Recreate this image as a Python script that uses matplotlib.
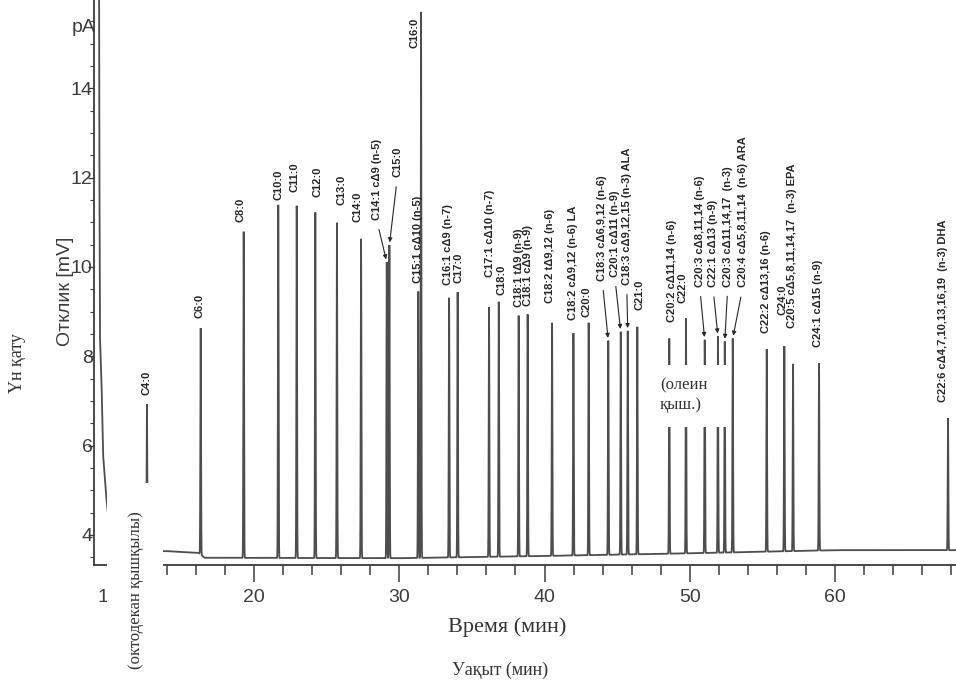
import numpy as np
import matplotlib
matplotlib.use("Agg")
import matplotlib.pyplot as plt
from matplotlib.patches import Rectangle
from matplotlib.ticker import MultipleLocator

plt.rcParams['font.family'] = ['Liberation Sans', 'DejaVu Sans']

# ---------------- data ----------------
peak_names = [
    "C4:0", "C6:0", "C8:0", "C10:0", "C11:0", "C12:0", "C13:0", "C14:0",
    "C14:1 cΔ9 (n-5)", "C15:0", "C15:1 cΔ10 (n-5)", "C16:0",
    "C16:1 cΔ9 (n-7)", "C17:0", "C17:1 cΔ10 (n-7)", "C18:0",
    "C18:1 tΔ9 (n-9)", "C18:1 cΔ9 (n-9)", "C18:2 tΔ9,12 (n-6)",
    "C18:2 cΔ9,12 (n-6) LA", "C20:0", "C18:3 cΔ6,9,12 (n-6)",
    "C20:1 cΔ11 (n-9)", "C18:3 cΔ9,12,15 (n-3) ALA", "C21:0",
    "C20:2 cΔ11,14 (n-6)", "C22:0", "C20:3 cΔ8,11,14 (n-6)",
    "C22:1 cΔ13 (n-9)", "C20:3 cΔ11,14,17  (n-3)",
    "C20:4 cΔ5,8,11,14  (n-6) ARA", "C22:2 cΔ13,16 (n-6)", "C24:0",
    "C20:5 cΔ5,8,11,14,17  (n-3) EPA", "C24:1 cΔ15 (n-9)",
    "C22:6 cΔ4,7,10,13,16,19  (n-3) DHA",
]
peak_times = [
    12.63, 16.33, 19.29, 21.67, 22.94, 24.22, 25.71, 27.37,
    29.14, 29.32, 31.31, 31.50,
    33.43, 34.02, 36.18, 36.85,
    38.22, 38.84, 40.52,
    41.99, 43.04, 44.39,
    45.25, 45.73, 46.39,
    48.59, 49.74, 51.03,
    51.94, 52.41,
    52.96, 55.30, 56.51,
    57.11, 58.90,
    67.78,
]
peak_heights = [
    6.93, 8.63, 10.79, 11.39, 11.37, 11.22, 10.99, 10.63,
    10.11, 10.49, 9.45, 15.71,
    9.31, 9.44, 9.10, 9.22,
    8.91, 8.94, 8.75,
    8.52, 8.75, 8.35,
    8.55, 8.57, 8.66,
    8.40, 8.85, 8.37,
    8.45, 8.33,
    8.40, 8.16, 8.23,
    7.83, 7.84,
    6.62,
]
base_t = [10.0, 13.9, 16.2, 16.6, 30.0, 40.0, 50.0, 60.0, 68.4]
base_v = [3.64, 3.64, 3.60, 3.49, 3.48, 3.53, 3.59, 3.66, 3.66]

solvent_t = [9.33, 9.36, 9.40, 9.51, 9.62, 9.85, 10.0]
solvent_v = [17.0, 12.0, 8.4, 7.3, 5.75, 4.78, 4.3]

x_major = [10, 20, 30, 40, 50, 60]
y_major = [4, 6, 8, 10, 12, 14]

# ---------------- label layout (pixels) ----------------
label_dx = [0, -1, -3, 0, -2, 2, 5, -4,
            -10, 8, 0, -7,
            -1, 1, 1, 3,
            0, 0, -2,
            0, -2, -6,
            -6, -1, 2,
            3, -3, -5,
            -5, 3,
            10, -1, -2,
            -1, -1,
            -5]
label_dy = [9, 10, 10, 5, 14, 15, 18, 17,
            42, 68, 9, -36,
            13, 9, 30, 7,
            9, 8, 20,
            13, 6, 60,
            55, 46, 17,
            16, 15, 53,
            49, 55,
            51, 16, 31,
            36, 16,
            16]
arrow_idx = {8, 9, 21, 22, 23, 27, 28, 29, 30}

W, H = 956, 680
DPI = 100
fig = plt.figure(figsize=(W / DPI, H / DPI), dpi=DPI)
ax = fig.add_axes([94 / W, 115 / H, 862 / W, 565 / H])

ink = '#3c3c3c'
trace_col = '#4d4d4d'

# trace: baseline + narrow peaks
t = np.sort(np.concatenate([np.arange(10.0, 68.4, 0.004), np.array(peak_times)]))
sig = np.interp(t, base_t, base_v)
sigma = 0.022
for tp, hp in zip(peak_times, peak_heights):
    b = np.interp(tp, base_t, base_v)
    sig = sig + (hp - b) * np.exp(-0.5 * ((t - tp) / sigma) ** 2)
ax.plot(t, sig, color=trace_col, lw=1.3, solid_joinstyle='miter')
ax.plot(solvent_t, solvent_v, color=trace_col, lw=1.3)

ax.set_xlim(8.985, 68.33)
ax.set_ylim(3.328, 15.977)

for s in ['top', 'right']:
    ax.spines[s].set_visible(False)
for s in ['left', 'bottom']:
    ax.spines[s].set_color(ink)
    ax.spines[s].set_linewidth(1.3)

ax.set_xticks(x_major)
ax.xaxis.set_minor_locator(MultipleLocator(2))
ax.set_yticks(y_major)
ax.yaxis.set_minor_locator(MultipleLocator(0.5))
ax.tick_params(axis='x', which='major', direction='out', length=12, width=1.1,
               colors=ink, labelsize=14, pad=5)
ax.tick_params(axis='x', which='minor', direction='out', length=7, width=1.1, colors=ink)
ax.tick_params(axis='y', which='major', direction='out', length=4, width=1.0,
               colors=ink, labelsize=14, pad=-3)
ax.tick_params(axis='y', which='minor', direction='out', length=3, width=0.8, colors=ink)

# peak labels
for i, (nm, tp, hp, dx, dy) in enumerate(zip(peak_names, peak_times, peak_heights,
                                                label_dx, label_dy)):
    kw = dict(xy=(tp, hp), xytext=(dx, dy), textcoords='offset pixels',
              rotation=90, ha='center', va='bottom', fontsize=8,
              fontweight='bold', color='#262626')
    if i in arrow_idx:
        kw['arrowprops'] = dict(arrowstyle='-|>', color='#262626', lw=0.8,
                                mutation_scale=6, shrinkA=5, shrinkB=2,
                                relpos=(0.5, 0.0))
    ax.annotate(nm, **kw)

# unit label and y label
fig.text(84 / W, 1 - 27 / H, 'pA', ha='center', va='center', fontsize=14, color=ink)
fig.text(66 / W, 1 - 291 / H, 'Отклик [mV]', rotation=90, ha='center', va='center',
         fontsize=14, color=ink)

# white overlay boxes
fig.add_artist(Rectangle((107 / W, 0), (163 - 107) / W, (H - 483) / H,
                         transform=fig.transFigure, facecolor='white',
                         edgecolor='none', zorder=10))
fig.add_artist(Rectangle((657 / W, (H - 427) / H), 73 / W, 62 / H,
                         transform=fig.transFigure, facecolor='white',
                         edgecolor='none', zorder=10))

serif = ['Liberation Serif', 'DejaVu Serif']
fig.text(136 / W, 1 - 590 / H, '(октодекан қышқылы)', rotation=90, ha='center',
         va='center', fontsize=12, family=serif, color='#333333', zorder=11)
fig.text(660 / W, 1 - 395 / H, '(олеин\nқыш.)', ha='left', va='center',
         fontsize=12, family=serif, color='#333333', linespacing=1.25, zorder=11)
fig.text(507 / W, 1 - 627 / H, 'Время (мин)', ha='center', va='center',
         fontsize=16, family=serif, color='#333333', zorder=11)
fig.text(500 / W, 1 - 670 / H, 'Уақыт (мин)', ha='center', va='center',
         fontsize=13, family=serif, color='#333333', zorder=11)
fig.text(17 / W, 1 - 363 / H, 'Үн қату', rotation=90, ha='center', va='center',
         fontsize=13, family=serif, color='#333333', zorder=11)

fig.savefig('out.png', dpi=DPI)
